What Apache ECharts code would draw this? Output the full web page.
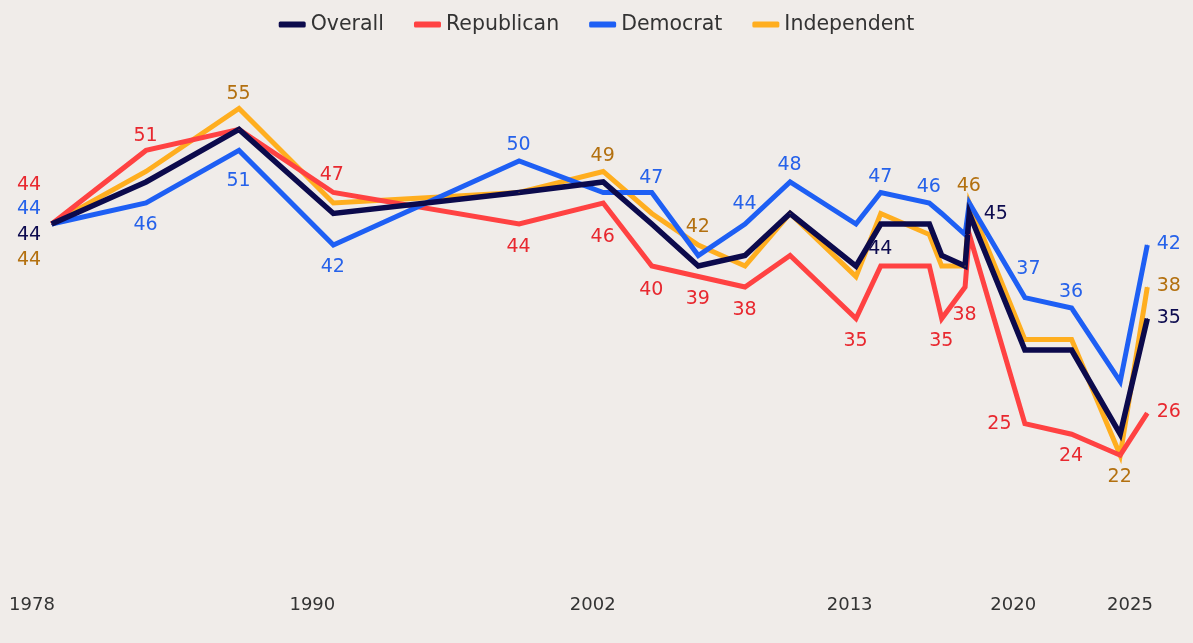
<!DOCTYPE html>
<html>
<head>
<meta charset="utf-8">
<script src="https://cdn.jsdelivr.net/npm/echarts@6/dist/echarts.min.js"></script>
<style>
  html, body { margin: 0; padding: 0; background: #f0ece9; }
  #chart { width: 1193px; height: 643px; }
</style>
</head>
<body>
<div id="chart"></div>
<script>
// ---- Data ----
const surveyYears = [1978.84, 1982.88, 1986.86, 1990.9, 1998.85, 2002.45, 2004.53, 2006.52, 2008.52, 2010.45,
                     2013.27, 2014.33, 2016.41, 2016.94, 2017.94, 2018.12, 2020.5, 2022.5, 2024.58, 2025.74];
const overall     = [44, 48, 53, 45, 47, 48, 44, 40, 41, 45, 40, 44, 44, 41, 40, 45, 32, 32, 24, 35];
const republican  = [44, 51, 53, 47, 44, 46, 40, 39, 38, 41, 35, 40, 40, 35, 38, 43, 25, 24, 22, 26];
const democrat    = [44, 46, 51, 42, 50, 47, 47, 41, 44, 48, 44, 47, 46, 45, 43, 46, 37, 36, 29, 42];
const independent = [44, 49, 55, 46, 47, 49, 45, 42, 40, 45, 39, 45, 43, 40, 40, 46, 33, 33, 22, 38];
const xTickLabels = [1978, 1990, 2002, 2013, 2020, 2025];
const seriesNames = ['Overall', 'Republican', 'Democrat', 'Independent'];

// ---- Styling (label placement: index -> [dx, dy] of label centre) ----
const FONT = 'DejaVu Sans';
const styles = {
  Overall:     { line: '#0c0a4c', text: '#0d0b4f', width: 5.5,
                 labels: {0:[-22,12], 11:[0,26], 15:[27,1], 19:[22,0]} },
  Republican:  { line: '#ff4242', text: '#e8282f', width: 5,
                 labels: {0:[-22,-38], 1:[0,-14], 3:[-1,-17], 4:[0,24], 5:[0,35], 6:[0,25], 7:[0,23], 8:[0,24],
                          10:[0,23], 13:[0,23], 14:[0,29], 16:[-25,1], 17:[0,22], 19:[22,-1]} },
  Democrat:    { line: '#1e5ff4', text: '#2662ea', width: 5,
                 labels: {0:[-22,-14], 1:[0,23], 2:[0,31], 3:[0,23], 4:[0,-15], 6:[0,-14], 8:[0,-19], 9:[0,-16],
                          11:[0,-15], 12:[0,-15], 16:[4,-28], 17:[0,-16], 19:[22,0]} },
  Independent: { line: '#ffae1f', text: '#b3700f', width: 5,
                 labels: {0:[-22,37], 2:[0,-14], 5:[0,-15], 7:[0,-17], 15:[0,-16], 18:[0,22], 19:[22,0]} }
};
const valuesByName = { Overall: overall, Republican: republican, Democrat: democrat, Independent: independent };

function buildSeries(name) {
  const st = styles[name];
  const vals = valuesByName[name];
  const data = surveyYears.map((yr, i) => {
    const item = { value: [yr, vals[i]] };
    const off = st.labels[i];
    if (off) {
      item.label = {
        show: true, position: [0, 0], align: 'center', verticalAlign: 'middle',
        offset: off, formatter: String(vals[i]),
        color: st.text, fontSize: 19, fontFamily: FONT
      };
    }
    return item;
  });
  return {
    name: name, type: 'line', data: data,
    showSymbol: true, symbol: 'circle', symbolSize: 1,
    itemStyle: { color: st.line },
    lineStyle: { color: st.line, width: st.width, join: 'miter' },
    label: { show: false },
    emphasis: { disabled: true },
    silent: true
  };
}

// Drawing order: Independent bottom, Overall on top
const drawOrder = ['Independent', 'Republican', 'Democrat', 'Overall'];

// Geometry
const pxPerYear = 23.362;
const yearPx0 = 32;           // pixel of 1978
const xMin = 1977, xMax = 2027;
const gridLeft = yearPx0 + (xMin - 1978) * pxPerYear;
const gridWidth = (xMax - xMin) * pxPerYear;
const pxPerUnit = 10.51;
const yMin = 10, yMax = 60;
const gridTop = 224 - (yMax - 44) * pxPerUnit;
const gridHeight = (yMax - yMin) * pxPerUnit;

const chart = echarts.init(document.getElementById('chart'), null, { renderer: 'canvas' });
chart.setOption({
  animation: false,
  backgroundColor: '#f0ece9',
  legend: {
    data: seriesNames.map(n => ({ name: n, itemStyle: { color: styles[n].line } })),
    left: 'center', top: 9,
    icon: 'roundRect', itemWidth: 27, itemHeight: 6, itemGap: 30,
    textStyle: { fontSize: 20.5, fontFamily: FONT, color: '#333333' }
  },
  grid: { left: gridLeft, top: gridTop, width: gridWidth, height: gridHeight, containLabel: false, outerBoundsMode: 'none' },
  xAxis: {
    type: 'value', min: xMin, max: xMax,
    axisLine: { show: false }, axisTick: { show: false }, splitLine: { show: false },
    axisLabel: {
      customValues: xTickLabels, formatter: v => String(v),
      fontSize: 18, fontFamily: FONT, color: '#333333', margin: 15
    }
  },
  yAxis: {
    type: 'value', min: yMin, max: yMax, show: false,
    splitLine: { show: false }
  },
  series: drawOrder.map(buildSeries)
});
</script>
</body>
</html>
